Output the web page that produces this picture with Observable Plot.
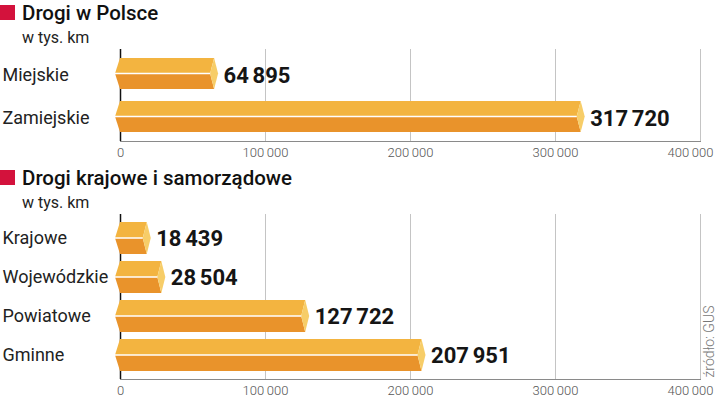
<!DOCTYPE html>
<html>
<head>
<meta charset="utf-8">
<script src="https://cdn.jsdelivr.net/npm/d3@7"></script>
<script src="https://cdn.jsdelivr.net/npm/@observablehq/plot@0.6"></script>
<style>
  html, body { margin: 0; padding: 0; background: #fff; }
  #chart { position: relative; width: 720px; height: 399px; font-family: Roboto, "Open Sans", sans-serif; overflow: hidden; }
  .sq { position: absolute; left: 0; width: 15px; height: 15px; background: #d3123c; }
  .title { position: absolute; left: 22px; font-size: 20.5px; line-height: 20px; font-weight: 500; color: #111; white-space: nowrap; }
  .sub { position: absolute; left: 22px; font-size: 16px; line-height: 16px; font-weight: 400; color: #222; white-space: nowrap; }
  .plot { position: absolute; left: 0; }
</style>
</head>
<body>
<div id="chart">
  <div class="sq" style="top:5px"></div>
  <div class="title" style="top:3px">Drogi w Polsce</div>
  <div class="sub" style="top:30px">w tys. km</div>
  <div class="plot" id="p1" style="top:40px"></div>
  <div class="sq" style="top:170px"></div>
  <div class="title" style="top:168px">Drogi krajowe i samorządowe</div>
  <div class="sub" style="top:195px">w tys. km</div>
  <div class="plot" id="p2" style="top:200px"></div>
</div>
<script>
// ---- data ----
const topCategories = ["Miejskie", "Zamiejskie"];
const topValues = [64895, 317720];
const bottomCategories = ["Krajowe", "Wojewódzkie", "Powiatowe", "Gminne"];
const bottomValues = [18439, 28504, 127722, 207951];
const xTicks = [0, 100000, 200000, 300000, 400000];
const sourceText = "źródło: GUS";

const fmtValue = d3.formatLocale({decimal: ",", thousands: "\u2006", grouping: [3], currency: ["", ""]}).format(",d");
const fmtTick = d3.formatLocale({decimal: ",", thousands: "\u2009", grouping: [3], currency: ["", ""]}).format(",d");

const NS = "http://www.w3.org/2000/svg";
function poly(points, fill) {
  const p = document.createElementNS(NS, "polygon");
  p.setAttribute("points", points.map(d => d.join(",")).join(" "));
  p.setAttribute("fill", fill);
  return p;
}
function prismRender(index, scales, values, dimensions, context, next) {
  const g = next(index, scales, values, dimensions, context);
  const rects = Array.from(g.querySelectorAll("rect"));
  const pl = 5, q = 4;
  for (const r of rects) {
    const x = +r.getAttribute("x"), y = +r.getAttribute("y");
    const w = +r.getAttribute("width"), h = +r.getAttribute("height");
    const m = y + h / 2;
    const grp = document.createElementNS(NS, "g");
    grp.appendChild(poly([[x, y], [x + w, y], [x + w - q, m], [x - pl, m]], "#f3b440"));
    grp.appendChild(poly([[x - pl, m], [x + w - q, m], [x + w, y + h], [x, y + h]], "#e9932b"));
    grp.appendChild(poly([[x + w, y], [x + w + q, m], [x + w, y + h], [x + w - q, m]], "#f7cd68"));
    const ln = document.createElementNS(NS, "line");
    ln.setAttribute("x1", x - pl); ln.setAttribute("x2", x + w - q);
    ln.setAttribute("y1", m); ln.setAttribute("y2", m);
    ln.setAttribute("stroke", "#fff"); ln.setAttribute("stroke-width", 1.5);
    grp.appendChild(ln);
    r.replaceWith(grp);
  }
  return g;
}

function panel(cats, vals, opts) {
  const data = cats.map((c, i) => ({cat: c, value: vals[i]}));
  const axisStyle = {tickSize: 0, tickPadding: 6, tickFormat: fmtTick, fontSize: 13, fontWeight: 300, fill: "#555", anchor: "bottom", label: null};
  return Plot.plot({
    width: 720,
    height: opts.height,
    marginLeft: 120,
    marginRight: 20,
    marginTop: opts.marginTop,
    marginBottom: opts.marginBottom,
    style: {fontFamily: "Roboto, sans-serif", background: "transparent", overflow: "visible"},
    x: {domain: [0, 400000], axis: null},
    y: {domain: cats, axis: null, paddingInner: opts.pi, paddingOuter: opts.po},
    marks: [
      Plot.ruleX(xTicks.slice(1), {stroke: "#c4c4c4", strokeWidth: 1}),
      Plot.frame({anchor: "bottom", stroke: "#8a8a8a", strokeWidth: 1}),
      Plot.ruleX([0], {stroke: "#111", strokeWidth: 1.5}),
      Plot.axisX({...axisStyle, ticks: xTicks.slice(0, -1)}),
      Plot.axisX({...axisStyle, ticks: xTicks.slice(-1), dx: -10}),
      Plot.barX(data, {x: "value", y: "cat", fill: "#f3b440", render: prismRender}),
      Plot.text(data, {x: "value", y: "cat", text: d => fmtValue(d.value), textAnchor: "start", dx: 9, dy: opts.labelDy, fontSize: 22, fontWeight: 700, fill: "#151515"}),
      Plot.text(data, {y: "cat", text: "cat", frameAnchor: "left", textAnchor: "start", dx: -118, dy: opts.labelDy, fontSize: 18, fill: "#222"}),
      ...(opts.source ? [Plot.text([opts.source], {frameAnchor: "bottom-right", text: d => d, rotate: -90, textAnchor: "start", dx: 13, dy: -2, fontSize: 14, fontWeight: 300, fill: "#777"})] : [])
    ]
  });
}

document.getElementById("p1").appendChild(panel(topCategories, topValues, {height: 125, marginTop: 9, marginBottom: 24, pi: 0.273, po: 0.182, labelDy: 1.5}));
document.getElementById("p2").appendChild(panel(bottomCategories, bottomValues, {height: 199, marginTop: 14, marginBottom: 20, pi: 0.1795, po: 0.205, labelDy: 0, source: sourceText}));
</script>
</body>
</html>
